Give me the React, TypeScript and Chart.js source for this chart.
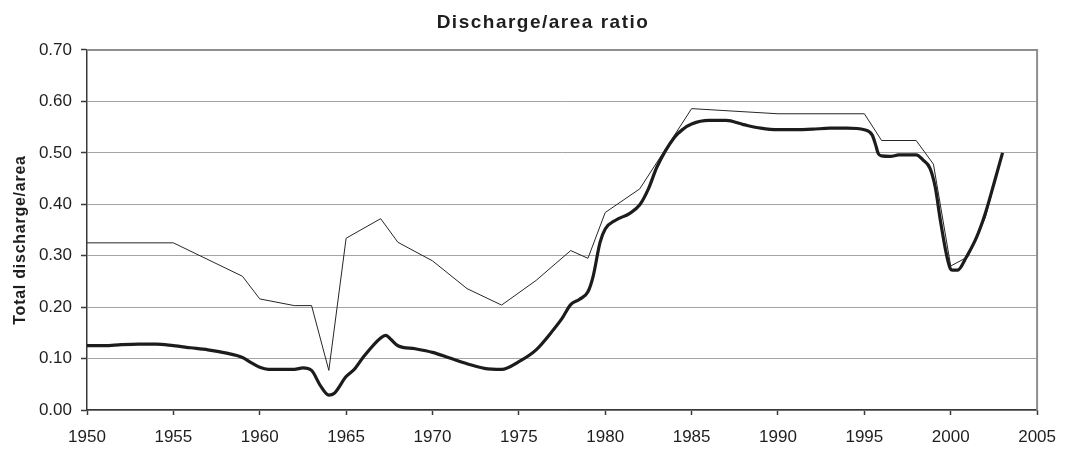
import React, { useEffect, useRef } from "react";
import { Chart, registerables } from "chart.js";

Chart.register(...registerables);

const TITLE = "Discharge/area ratio";
const Y_TITLE = "Total discharge/area";

// Thin line (yearly ratio)
const thinYears = [1950, 1955, 1959, 1960, 1962, 1963, 1964, 1965, 1967, 1968, 1970, 1972, 1974, 1976, 1978, 1979, 1980, 1982, 1985, 1990, 1995, 1996, 1998, 1999, 2000, 2001, 2002, 2003];
const thinValues = [0.325, 0.325, 0.26, 0.216, 0.203, 0.203, 0.077, 0.334, 0.372, 0.326, 0.29, 0.236, 0.204, 0.252, 0.31, 0.295, 0.384, 0.43, 0.586, 0.576, 0.576, 0.524, 0.524, 0.478, 0.28, 0.298, 0.374, 0.5];

// Thick line (smoothed ratio)
const thickYears = [1950, 1951, 1952, 1953, 1954, 1955, 1956, 1957, 1958, 1959, 1959.5, 1960, 1960.5, 1961, 1962, 1962.5, 1963, 1963.5, 1964, 1964.3, 1965, 1965.5, 1966, 1967, 1967.3, 1967.6, 1968, 1969, 1970, 1971, 1972, 1973, 1974, 1975, 1976, 1977, 1977.5, 1978, 1978.5, 1979, 1979.3, 1979.7, 1980, 1980.6, 1981.4, 1982, 1982.5, 1983, 1984, 1984.5, 1985, 1986, 1987, 1988, 1989, 1990, 1991, 1992, 1993, 1994, 1995, 1995.45, 1995.65, 1995.8, 1996, 1996.5, 1997, 1998, 1998.4, 1998.8, 1999.1, 1999.4, 1999.75, 1999.95, 2000.1, 2000.4, 2000.9, 2001.5, 2002, 2002.5, 2003];
const thickValues = [0.125, 0.125, 0.127, 0.128, 0.128, 0.125, 0.121, 0.117, 0.111, 0.102, 0.092, 0.083, 0.079, 0.079, 0.079, 0.082, 0.077, 0.048, 0.029, 0.032, 0.065, 0.08, 0.103, 0.14, 0.145, 0.137, 0.125, 0.119, 0.112, 0.101, 0.09, 0.081, 0.079, 0.094, 0.117, 0.156, 0.178, 0.205, 0.215, 0.23, 0.26, 0.326, 0.352, 0.369, 0.382, 0.399, 0.43, 0.473, 0.53, 0.546, 0.556, 0.563, 0.563, 0.555, 0.548, 0.545, 0.545, 0.546, 0.548, 0.548, 0.545, 0.535, 0.516, 0.499, 0.494, 0.493, 0.496, 0.496, 0.486, 0.47, 0.434, 0.369, 0.303, 0.277, 0.272, 0.272, 0.297, 0.336, 0.382, 0.44, 0.5];

const X_MIN = 1950;
const X_MAX = 2005;
const X_STEP = 5;
const Y_MIN = 0;
const Y_MAX = 0.7;
const Y_STEP = 0.1;

const FONT = "'Liberation Sans', Arial, Helvetica, sans-serif";

const framePlugin = {
  id: "frameAndTitles",
  beforeDatasetsDraw(chart: any) {
    const { ctx, chartArea } = chart;
    const { left, right, top, bottom } = chartArea;
    ctx.save();
    ctx.strokeStyle = "#8e8e8e";
    ctx.lineWidth = 2;
    ctx.beginPath();
    ctx.moveTo(left, top);
    ctx.lineTo(right, top);
    ctx.lineTo(right, bottom);
    ctx.stroke();
    ctx.restore();
  },
  afterDraw(chart: any) {
    const { ctx } = chart;
    ctx.save();
    ctx.fillStyle = "#1e1e1e";
    ctx.font = `bold 19px ${FONT}`;
    ctx.textAlign = "center";
    ctx.textBaseline = "alphabetic";
    (ctx as any).letterSpacing = "1.5px";
    ctx.fillText(TITLE, 543, 28);
    ctx.restore();

    ctx.save();
    ctx.fillStyle = "#1e1e1e";
    ctx.font = `bold 16px ${FONT}`;
    ctx.textAlign = "center";
    ctx.textBaseline = "alphabetic";
    (ctx as any).letterSpacing = "0.75px";
    ctx.translate(25, 240);
    ctx.rotate(-Math.PI / 2);
    ctx.fillText(Y_TITLE, 0, 0);
    ctx.restore();
  },
};

export default function App() {
  const ref = useRef<HTMLCanvasElement | null>(null);

  useEffect(() => {
    document.body.style.margin = "0";
    const canvas = ref.current;
    if (!canvas) return;

    const thick = thickYears.map((x, i) => ({ x, y: thickValues[i] }));
    const thin = thinYears.map((x, i) => ({ x, y: thinValues[i] }));

    const chart = new Chart(canvas, {
      type: "line",
      data: {
        datasets: [
          {
            label: "Smoothed",
            data: thick,
            borderColor: "#1c1c1c",
            borderWidth: 3.2,
            pointRadius: 0,
            fill: false,
            cubicInterpolationMode: "monotone",
          },
          {
            label: "Annual",
            data: thin,
            borderColor: "#262626",
            borderWidth: 1,
            pointRadius: 0,
            fill: false,
            tension: 0,
          },
        ],
      },
      options: {
        responsive: false,
        animation: false,
        events: [],
        layout: { padding: { left: 0, right: 26, top: 50, bottom: 0 } },
        plugins: {
          legend: { display: false },
          tooltip: { enabled: false },
          title: { display: false },
        },
        scales: {
          x: {
            type: "linear",
            min: X_MIN,
            max: X_MAX,
            afterFit(scale: any) {
              scale.height = 40;
            },
            afterBuildTicks(scale: any) {
              const t = [];
              for (let v = X_MIN; v <= X_MAX; v += X_STEP) t.push({ value: v });
              scale.ticks = t;
            },
            ticks: {
              callback: (v: any) => String(v),
              font: { family: FONT, size: 17 },
              color: "#1e1e1e",
              padding: 12,
              maxRotation: 0,
              autoSkip: false,
            },
            grid: {
              display: true,
              drawOnChartArea: false,
              drawTicks: true,
              tickLength: 5,
              tickColor: "#3a3a3a",
              tickWidth: 1.5,
            },
            border: { display: true, color: "#3a3a3a", width: 1.5 },
          },
          y: {
            type: "linear",
            min: Y_MIN,
            max: Y_MAX,
            afterFit(scale: any) {
              scale.width = 87;
            },
            afterBuildTicks(scale: any) {
              const t = [];
              for (let i = 0; i <= Math.round((Y_MAX - Y_MIN) / Y_STEP); i++) t.push({ value: Y_MIN + i * Y_STEP });
              scale.ticks = t;
            },
            ticks: {
              callback: (v: any) => Number(v).toFixed(2),
              font: { family: FONT, size: 17 },
              color: "#1e1e1e",
              padding: 9,
              autoSkip: false,
            },
            grid: {
              display: true,
              drawOnChartArea: true,
              color: "#a4a4a4",
              lineWidth: 1,
              tickLength: 6,
              tickColor: "#3a3a3a",
              tickWidth: 1.5,
            },
            border: { display: true, color: "#3a3a3a", width: 1.5 },
          },
        },
      },
      plugins: [framePlugin],
    } as any);

    return () => chart.destroy();
  }, []);

  return (
    <div style={{ width: 1068, height: 450, background: "#ffffff" }}>
      <canvas ref={ref} width={1068} height={450} style={{ display: "block" }} />
    </div>
  );
}
